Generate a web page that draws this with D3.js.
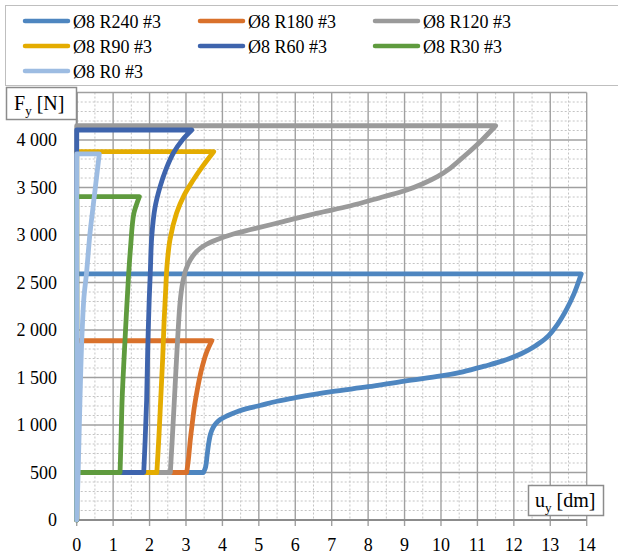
<!DOCTYPE html>
<html>
<head>
<meta charset="utf-8">
<script src="https://cdn.jsdelivr.net/npm/d3@7"></script>
<style>
  body { margin: 0; background: #fff; }
  svg, svg text { font-family: "Liberation Serif", "DejaVu Serif", "Times New Roman", serif; }
</style>
</head>
<body>
<script>
(function(){
  var width = 618;
  var height = 555;

  // series names and colours, in drawing order
  var seriesNames = ["Ø8 R240 #3", "Ø8 R180 #3", "Ø8 R120 #3", "Ø8 R90 #3", "Ø8 R60 #3", "Ø8 R30 #3", "Ø8 R0 #3"];
  var seriesColors = ["#4E86C0", "#D9712B", "#9A9A9A", "#E4AC00", "#3E64AD", "#5F9B3E", "#9DBCE2"];

  // rising branch of every loop [u (dm), F (N)], from end of the 500 N plateau up to the peak
  var r240 = [[3.48,500],[3.54,560],[3.58,680],[3.62,800],[3.67,900],[3.74,970],[3.83,1020],[3.95,1060],[4.12,1095],[4.4,1140],[4.75,1180],[5.03,1205],[5.5,1250],[6,1287],[7,1351],[8,1403],[9,1463],[10,1516],[10.6,1560],[11.2,1620],[11.7,1675],[12.2,1750],[12.6,1835],[12.9,1920],[13.2,2060],[13.45,2220],[13.65,2380],[13.85,2590]];
  var r180 = [[3.02,500],[3.07,650],[3.12,850],[3.17,1010],[3.23,1190],[3.31,1370],[3.43,1590],[3.56,1760],[3.71,1887]];
  var r120 = [[2.57,500],[2.63,900],[2.7,1400],[2.77,1900],[2.84,2300],[2.91,2500],[3.0,2640],[3.12,2740],[3.3,2830],[3.55,2900],[3.84,2950],[4.3,3010],[4.75,3055],[5.67,3140],[6.58,3228],[7.5,3305],[8.42,3403],[9.0,3465],[9.5,3540],[9.9,3615],[10.25,3702],[10.7,3850],[11.1,3990],[11.5,4150]];
  var r90 = [[2.2,500],[2.26,900],[2.31,1300],[2.36,1700],[2.4,2100],[2.44,2400],[2.48,2680],[2.56,2950],[2.74,3228],[2.95,3420],[3.2,3579],[3.45,3720],[3.76,3877]];
  var r60 = [[1.84,500],[1.88,850],[1.92,1263],[1.95,1800],[1.99,2316],[2.02,2600],[2.06,2980],[2.15,3290],[2.29,3509],[2.45,3690],[2.65,3860],[2.9,4000],[3.16,4105]];
  var r30 = [[1.19,500],[1.22,900],[1.25,1300],[1.3,1700],[1.36,2140],[1.42,2550],[1.48,2877],[1.57,3228],[1.72,3403]];
  var r0 = [[0,0],[0.04,500],[0.09,1263],[0.14,1900],[0.2,2350],[0.27,2600],[0.36,3000],[0.45,3300],[0.62,3853]];
  var seriesRise = [r240, r180, r120, r90, r60, r30, r0];

  var xTicks = d3.range(0, 15, 1);
  var xMinor = d3.range(0.5, 14, 1);
  var yGrid = d3.range(0, 4501, 500);
  var yLabels = ["0", "500", "1 000", "1 500", "2 000", "2 500", "3 000", "3 500", "4 000"];
  var yMinor = d3.range(100, 4500, 100).filter(function(v){ return v % 500 !== 0; });

  var svg = d3.select("body").append("svg")
    .attr("width", width)
    .attr("height", height)
    .attr("font-family", "Liberation Serif, DejaVu Serif, serif");

  var x = d3.scaleLinear().domain([0, 14]).range([76.7, 586.7]);
  var y = d3.scaleLinear().domain([0, 4500]).range([520, 92.5]);

  // minor grid (dotted)
  var grid = svg.append("g");
  grid.selectAll(".vmin").data(xMinor).enter().append("line")
    .attr("x1", function(d){ return x(d); }).attr("x2", function(d){ return x(d); })
    .attr("y1", y(4500)).attr("y2", y(0))
    .style("stroke", "#c4c4c4").style("stroke-width", 1).style("stroke-dasharray", "2,2");
  grid.selectAll(".hmin").data(yMinor).enter().append("line")
    .attr("x1", x(0)).attr("x2", x(14))
    .attr("y1", function(d){ return y(d); }).attr("y2", function(d){ return y(d); })
    .style("stroke", "#c4c4c4").style("stroke-width", 1).style("stroke-dasharray", "2,2");

  // major grid
  grid.selectAll(".vmaj").data(xTicks).enter().append("line")
    .attr("x1", function(d){ return x(d); }).attr("x2", function(d){ return x(d); })
    .attr("y1", y(4500)).attr("y2", y(0) + 6)
    .style("stroke", "#a0a0a0").style("stroke-width", 1.4);
  grid.selectAll(".hmaj").data(yGrid).enter().append("line")
    .attr("x1", x(0)).attr("x2", x(14))
    .attr("y1", function(d){ return y(d); }).attr("y2", function(d){ return y(d); })
    .style("stroke", "#a0a0a0").style("stroke-width", 1.4);

  // axes lines
  svg.append("line")
    .attr("x1", x(0)).attr("x2", x(14)).attr("y1", y(0)).attr("y2", y(0))
    .style("stroke", "#8c8c8c").style("stroke-width", 2.2);
  svg.append("line")
    .attr("x1", x(0)).attr("x2", x(0)).attr("y1", y(0)).attr("y2", y(4500))
    .style("stroke", "#8c8c8c").style("stroke-width", 2);

  // curves
  var smooth = d3.line()
    .x(function(d){ return x(d[0]); })
    .y(function(d){ return y(d[1]); })
    .curve(d3.curveCatmullRom.alpha(0.5));
  var straight = d3.line()
    .x(function(d){ return x(d[0]); })
    .y(function(d){ return y(d[1]); });

  seriesRise.forEach(function(rise, i){
    var first = rise[0];
    var peak = rise[rise.length - 1];
    var start = straight([[0, 0], [0, first[1]], first]);
    var up = smooth(rise).replace(/^M/, "L");
    var back = straight([peak, [0, peak[1]], [0, 0]]).replace(/^M/, "L");
    svg.append("path")
      .attr("d", start + up + back)
      .style("fill", "none")
      .style("stroke", seriesColors[i])
      .style("stroke-width", 4.8)
      .style("stroke-linejoin", "round")
      .style("stroke-linecap", "round");
  });

  // tick labels
  svg.selectAll(".xl").data(xTicks).enter().append("text")
    .attr("x", function(d){ return x(d); })
    .attr("y", 551)
    .attr("text-anchor", "middle")
    .style("font-size", "18px")
    .text(function(d){ return d; });

  svg.selectAll(".yl").data(yLabels).enter().append("text")
    .attr("x", 57)
    .attr("y", function(d, i){ return y(yGrid[i]) + 6; })
    .attr("text-anchor", "end")
    .style("font-size", "18px")
    .text(function(d){ return d; });

  // axis title boxes
  svg.append("rect")
    .attr("x", 6.5).attr("y", 87.5).attr("width", 70).attr("height", 32)
    .style("fill", "#fff").style("stroke", "#8c8c8c").style("stroke-width", 1.5);
  var fy = svg.append("text").attr("x", 14).attr("y", 110).style("font-size", "20px");
  fy.append("tspan").text("F");
  fy.append("tspan").attr("dy", 5).style("font-size", "13px").text("y");
  fy.append("tspan").attr("dy", -5).text(" [N]");

  svg.append("rect")
    .attr("x", 528.5).attr("y", 485.5).attr("width", 75).attr("height", 30)
    .style("fill", "#fff").style("stroke", "#8c8c8c").style("stroke-width", 1.5);
  var uy = svg.append("text").attr("x", 535).attr("y", 507).style("font-size", "20px");
  uy.append("tspan").text("u");
  uy.append("tspan").attr("dy", 5).style("font-size", "13px").text("y");
  uy.append("tspan").attr("dy", -5).text(" [dm]");

  // legend
  svg.append("rect")
    .attr("x", 5.5).attr("y", 5.5).attr("width", 620).attr("height", 80)
    .style("fill", "#fff").style("stroke", "#bfbfbf").style("stroke-width", 1);
  var colX = [23, 198, 373];
  var rowY = [21, 46, 71];
  seriesNames.forEach(function(name, i){
    var cx = colX[i % 3];
    var cy = rowY[Math.floor(i / 3)];
    svg.append("line")
      .attr("x1", cx + 2).attr("x2", cx + 45).attr("y1", cy).attr("y2", cy)
      .style("stroke", seriesColors[i]).style("stroke-width", 4.5)
      .style("stroke-linecap", "round");
    svg.append("text")
      .attr("x", cx + 50).attr("y", cy + 6.5)
      .style("font-size", "18px")
      .text(name);
  });
})();
</script>
</body>
</html>
